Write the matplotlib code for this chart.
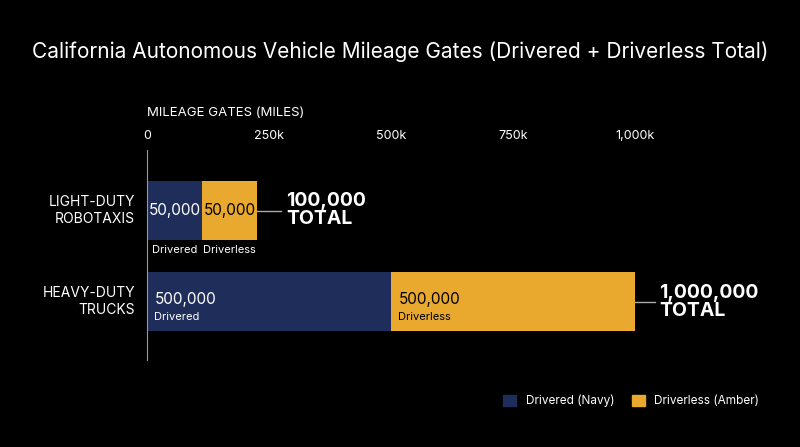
import matplotlib
matplotlib.use("Agg")
import matplotlib.pyplot as plt

categories = ["LIGHT-DUTY\nROBOTAXIS", "HEAVY-DUTY\nTRUCKS"]
drivered = [50000, 500000]
driverless = [50000, 500000]
totals = [100000, 1000000]
# drawn bar lengths as they appear in the reference (light-duty bars are enlarged for legibility)
drawn_drivered = [112500, 500000]
drawn_driverless = [112500, 500000]
ticks = [0, 250000, 500000, 750000, 1000000]
tick_labels = ["0", "250k", "500k", "750k", "1,000k"]

NAVY = "#1f2d5a"
AMBER = "#e8a92e"
plt.rcParams['font.family'] = ['Inter', 'DejaVu Sans']

fig = plt.figure(figsize=(8, 4.47), dpi=100, facecolor="black")
ax = fig.add_axes([147/800, 1-360/447, 488/800, 210/447], facecolor="black")
ax.set_xlim(0, 1000000)
ax.set_ylim(360, 150)
ys = [210.5, 301.5]
h = 59
for i, y in enumerate(ys):
    ax.barh(y, drawn_drivered[i], height=h, color=NAVY, left=0)
    ax.barh(y, drawn_driverless[i], height=h, color=AMBER, left=drawn_drivered[i])
    end = drawn_drivered[i] + drawn_driverless[i]
    x_txt = end + 60000 if i == 0 else end + 50000
    ax.plot([end, x_txt - 10000], [y, y], color="#aaaaaa", lw=1, clip_on=False)
    ax.text(x_txt, y, f"{totals[i]:,}\nTOTAL", color="white", fontsize=14, fontweight="bold",
            va="center", ha="left", linespacing=1.0, clip_on=False)
    ax.text(-25000, y, categories[i], color="white", fontsize=10, ha="right", va="center", linespacing=1.3)
    if i == 0:
        ax.text(drawn_drivered[i]/2, y, f"{drivered[i]:,}", color="white", fontsize=11, ha="center", va="center")
        ax.text(drawn_drivered[i] + drawn_driverless[i]/2, y, f"{driverless[i]:,}", color="black", fontsize=11, ha="center", va="center")
        ax.text(drawn_drivered[i]/2, y + h/2 + 10, "Drivered", color="white", fontsize=8, ha="center", va="center")
        ax.text(drawn_drivered[i] + drawn_driverless[i]/2, y + h/2 + 10, "Driverless", color="white", fontsize=8, ha="center", va="center")
    else:
        ax.text(15000, y - 2, f"{drivered[i]:,}", color="white", fontsize=11, ha="left", va="center")
        ax.text(15000, y + 15, "Drivered", color="white", fontsize=8, ha="left", va="center")
        ax.text(drawn_drivered[i] + 15000, y - 2, f"{driverless[i]:,}", color="black", fontsize=11, ha="left", va="center")
        ax.text(drawn_drivered[i] + 15000, y + 15, "Driverless", color="black", fontsize=8, ha="left", va="center")

ax.xaxis.tick_top()
ax.set_xticks(ticks)
ax.set_xticklabels(tick_labels, color="white", fontsize=9)
ax.tick_params(axis="x", length=0, pad=6)
ax.set_yticks([])
for s in ["right", "bottom", "top"]:
    ax.spines[s].set_visible(False)
ax.spines["left"].set_color("#999999")

fig.text(0.5, 1-52/447, "California Autonomous Vehicle Mileage Gates (Drivered + Driverless Total)",
         color="white", fontsize=15, ha="center", va="center")
fig.text(147/800, 1-113/447, "MILEAGE GATES (MILES)", color="white", fontsize=9.5, ha="left", va="center")

from matplotlib.patches import Patch
leg = fig.legend(handles=[Patch(color=NAVY, label="Drivered (Navy)"), Patch(color=AMBER, label="Driverless (Amber)")],
                 loc="center right", bbox_to_anchor=(770/800, 1-401/447), ncol=2, frameon=False,
                 fontsize=8.5, labelcolor="white", handlelength=1.1, handleheight=1.1, columnspacing=1.5)
fig.savefig("out.png", facecolor="black")
